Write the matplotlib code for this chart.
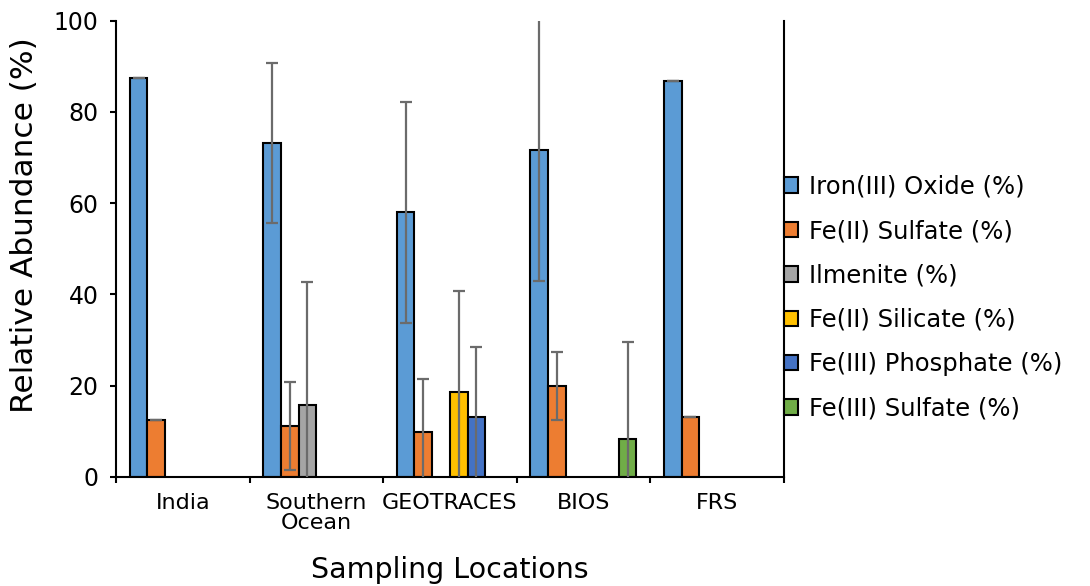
import numpy as np
import matplotlib
matplotlib.use("Agg")
import matplotlib.pyplot as plt
from matplotlib.patches import Patch

NAN = np.nan
LOCATIONS = ["India", "Southern\nOcean", "GEOTRACES", "BIOS", "FRS"]
SERIES = ["Iron(III) Oxide (%)", "Fe(II) Sulfate (%)", "Ilmenite (%)",
          "Fe(II) Silicate (%)", "Fe(III) Phosphate (%)", "Fe(III) Sulfate (%)"]
COLORS = ["#5B9BD5", "#ED7D31", "#A5A5A5", "#FFC000", "#4472C4", "#70AD47"]

# mean relative abundance per location (NaN = phase not found)
IRON_OXIDE = [87.5, 73.2, 58.0, 71.7, 86.7]
FE2_SULFATE = [12.4, 11.1, 9.8, 19.9, 13.2]
ILMENITE = [NAN, 15.7, NAN, NAN, NAN]
FE2_SILICATE = [NAN, NAN, 18.6, NAN, NAN]
FE3_PHOSPHATE = [NAN, NAN, 13.2, NAN, NAN]
FE3_SULFATE = [NAN, NAN, NAN, 8.3, NAN]

# standard deviations
IRON_OXIDE_ERR = [0, 17.5, 24.2, 28.7, 0]
FE2_SULFATE_ERR = [0, 9.6, 11.7, 7.4, 0]
ILMENITE_ERR = [NAN, 27.1, NAN, NAN, NAN]
FE2_SILICATE_ERR = [NAN, NAN, 22.2, NAN, NAN]
FE3_PHOSPHATE_ERR = [NAN, NAN, 15.2, NAN, NAN]
FE3_SULFATE_ERR = [NAN, NAN, NAN, 21.2, NAN]

VALUES = [IRON_OXIDE, FE2_SULFATE, ILMENITE, FE2_SILICATE, FE3_PHOSPHATE, FE3_SULFATE]
ERRORS = [IRON_OXIDE_ERR, FE2_SULFATE_ERR, ILMENITE_ERR, FE2_SILICATE_ERR,
          FE3_PHOSPHATE_ERR, FE3_SULFATE_ERR]

plt.rcParams.update({"font.family": "DejaVu Sans", "font.size": 17})


def main():
    fig = plt.figure(figsize=(10.9, 5.86), dpi=100)
    ax = fig.add_axes([0.1064, 0.1865, 0.6126, 0.7782])
    x = np.arange(len(LOCATIONS))
    w = 1 / 7.55
    for i, (vals, errs, col) in enumerate(zip(VALUES, ERRORS, COLORS)):
        v = np.array(vals, dtype=float)
        e = np.array(errs, dtype=float)
        m = ~np.isnan(v)
        xs = x[m] + (i - 2.5) * w
        ax.bar(xs, v[m], w, color=col, edgecolor="black", linewidth=1.5, zorder=2)
        ax.errorbar(xs, v[m], yerr=e[m], fmt="none", ecolor="#6B6B6B",
                    elinewidth=1.6, capsize=4.3, capthick=1.6, zorder=3)

    ax.set_xlim(-0.5, len(LOCATIONS) - 0.5)
    ax.set_ylim(0, 100)
    ax.set_yticks(range(0, 101, 20))
    ax.set_xticks(np.arange(len(LOCATIONS) + 1) - 0.5)
    ax.set_xticklabels([])
    ax.set_xticks(x, minor=True)
    ax.set_xticklabels(LOCATIONS, minor=True, fontsize=16, linespacing=1.0)
    ax.tick_params(axis="x", which="minor", length=0, pad=12)
    ax.tick_params(axis="x", which="major", length=4.5, width=1.5, direction="out")
    ax.tick_params(axis="y", length=4.5, width=1.5, direction="out", labelsize=17, pad=8)
    ax.spines["top"].set_visible(False)
    for s in ("left", "bottom", "right"):
        ax.spines[s].set_linewidth(1.5)

    ax.set_ylabel("Relative Abundance (%)", fontsize=22.5)
    ax.yaxis.set_label_coords(-0.115, 0.552)
    ax.set_xlabel("Sampling Locations", fontsize=20.5, labelpad=16)

    handles = [Patch(facecolor=c, edgecolor="black", linewidth=1.5) for c in COLORS]
    fig.legend(handles, SERIES, loc="center left", bbox_to_anchor=(0.719, 0.492),
               frameon=False, fontsize=17.5, handlelength=0.6, handleheight=0.6,
               handletextpad=0.45, labelspacing=0.84, borderaxespad=0, borderpad=0)
    fig.savefig("out.png", dpi=100)
    plt.close(fig)


if __name__ == "__main__":
    main()
